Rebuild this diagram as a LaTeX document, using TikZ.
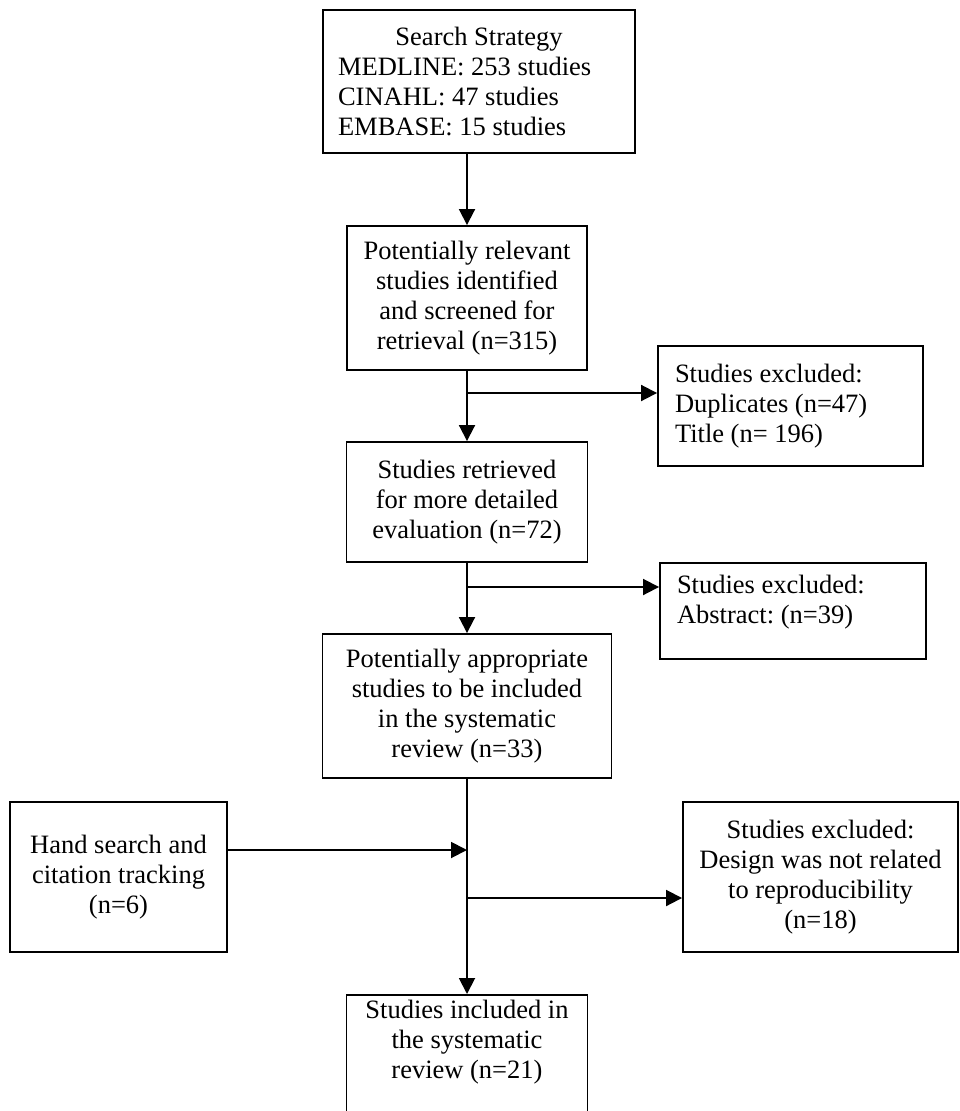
\documentclass[tikz,border=0pt]{standalone}
\usepackage{fontspec}
\setmainfont{Liberation Serif}
\frenchspacing
\usetikzlibrary{arrows.meta}
\begin{document}
\begin{tikzpicture}[x=1pt, y=-1pt, line width=1.9pt, >={Triangle[length=16pt,width=16pt]},
 box/.style={draw, line width=1.9pt, align=flush center, inner sep=0pt, font=\fontsize{26.5}{30}\selectfont},
 leftbox/.style={box, align=flush left, inner xsep=17pt}]
\useasboundingbox (0,0) rectangle (960,1111);
\node[leftbox, text width=282pt, inner xsep=15pt, minimum height=143pt] (search) at (479,81.5)
 {\centering Search Strategy\par\raggedright MEDLINE: 253 studies\\ CINAHL: 47 studies\\ EMBASE: 15 studies};
\node[box, minimum width=240pt, minimum height=144pt] (relevant) at (467,298)
 {Potentially relevant\\ studies identified\\ and screened for\\ retrieval (n=315)};
\node[box, minimum width=241pt, minimum height=120pt] (retrieved) at (467,502)
 {Studies retrieved\\ for more detailed\\ evaluation (n=72)};
\node[box, minimum width=289pt, minimum height=144pt] (appropriate) at (467,706)
 {Potentially appropriate\\ studies to be included\\ in the systematic\\ review (n=33)};
\node[box, text width=241pt, anchor=north, text height=24pt, text depth=110pt] (incl) at (467,994)
 {Studies included in\\ the systematic\\ review (n=21)};
\node[leftbox, text width=231pt, minimum height=120pt] (excl1) at (790.5,406)
 {Studies excluded:\\ Duplicates (n=47)\\ Title (n= 196)};
\node[leftbox, text width=232pt, anchor=north, text height=31pt, text depth=65pt] (excl2) at (793,562)
 {Studies excluded:\\ Abstract: (n=39)};
\node[box, minimum width=275pt, minimum height=150pt] (excl3) at (820.5,877)
 {Studies excluded:\\ Design was not related\\ to reproducibility\\ (n=18)};
\node[box, minimum width=217pt, minimum height=150pt] (hand) at (118.5,877)
 {Hand search and\\ citation tracking\\ (n=6)};
\draw[->] (search.south -| relevant.north) -- (relevant.north);
\foreach \a/\b in {relevant/retrieved, retrieved/appropriate, appropriate/incl}
 \draw[->] (\a.south) -- (\b.north);
\coordinate (b1) at (467,393);
\coordinate (b2) at (467,587);
\coordinate (b3) at (467,898);
\coordinate (j1) at (467,850);
\draw[->] (b1) -- (b1 -| excl1.west);
\draw[->] (b2) -- (b2 -| excl2.west);
\draw[->] (b3) -- (b3 -| excl3.west);
\draw[->] (hand.east |- j1) -- (j1);
\end{tikzpicture}
\end{document}
